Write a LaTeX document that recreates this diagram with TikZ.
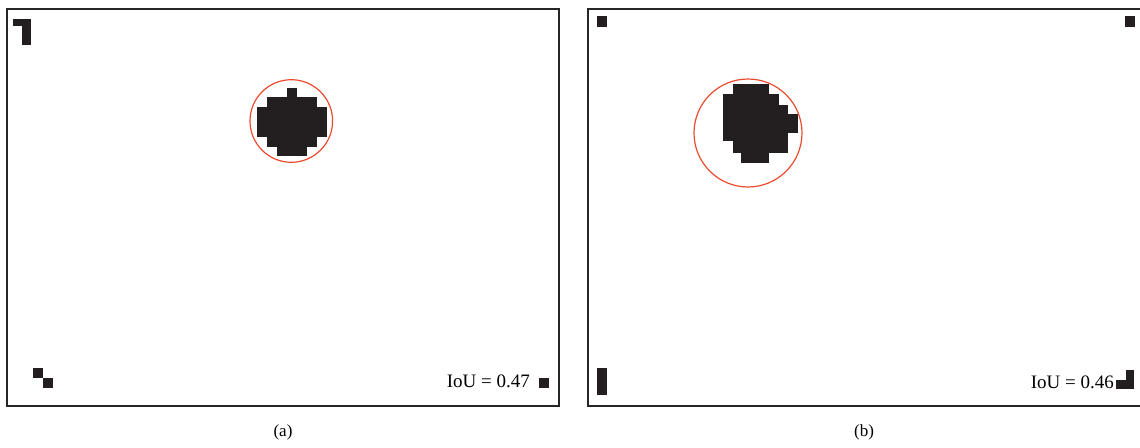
\documentclass[tikz,border=0pt]{standalone}
\usepackage{fontspec}
\setmainfont{Liberation Serif}
\definecolor{pixnegro}{HTML}{231F20}
\definecolor{circrojo}{HTML}{EC4A2E}
\begin{document}
\begin{tikzpicture}[x=1pt,y=-1pt,
    marco/.style={draw=black!85, line width=1.2pt},
    pixel/.style={fill=pixnegro},
    circulo/.style={draw=circrojo, line width=1.2pt},
    iou/.style={font=\fontsize{19}{22}\selectfont, inner sep=0pt, anchor=base east},
    leyenda/.style={font=\fontsize{17}{20}\selectfont, inner sep=0pt}]
    \useasboundingbox (0,0) rectangle (1140,447);

    % panel (a)
    \draw[marco] (7,9) rectangle (559,406);
    % mancha detectada
    \fill[pixel] (287,88) rectangle (297,97);
    \fill[pixel] (267,97) rectangle (317,107);
    \fill[pixel] (257,107) rectangle (327,137);
    \fill[pixel] (267,137) rectangle (317,147);
    \fill[pixel] (277,147) rectangle (307,156);
    \draw[circulo] (291.3,121) circle [radius=41.3pt];
    % ruido en las esquinas
    \fill[pixel] (13,19) rectangle (22,26);
    \fill[pixel] (22,19) rectangle (31,45);
    \fill[pixel] (33,368) rectangle (43,378);
    \fill[pixel] (43,378) rectangle (53,388);
    \fill[pixel] (539,378) rectangle (549,388);
    \node[iou] (iouA) at (530,387) {IoU = 0.47};
    \node[leyenda] (capA) at (283,432) {(a)};

    % panel (b)
    \draw[marco] (588,9) rectangle (1141,406);
    % mancha detectada
    \fill[pixel] (733,84) rectangle (769,94);
    \fill[pixel] (723,94) rectangle (779,105);
    \fill[pixel] (723,105) rectangle (788,114);
    \fill[pixel] (723,114) rectangle (798,133);
    \fill[pixel] (723,133) rectangle (788,141);
    \fill[pixel] (733,141) rectangle (788,153);
    \fill[pixel] (741,153) rectangle (769,163);
    \draw[circulo] (748,133) circle [radius=54pt];
    % ruido en las esquinas
    \fill[pixel] (597,16) rectangle (607,27);
    \fill[pixel] (1125,16) rectangle (1135,27);
    \fill[pixel] (597,368) rectangle (607,395);
    \fill[pixel] (1116,380) rectangle (1134,389);
    \fill[pixel] (1126,370) rectangle (1134,380);
    \node[iou] (iouB) at (1114,388) {IoU = 0.46};
    \node[leyenda] (capB) at (864,432) {(b)};
\end{tikzpicture}
\end{document}
